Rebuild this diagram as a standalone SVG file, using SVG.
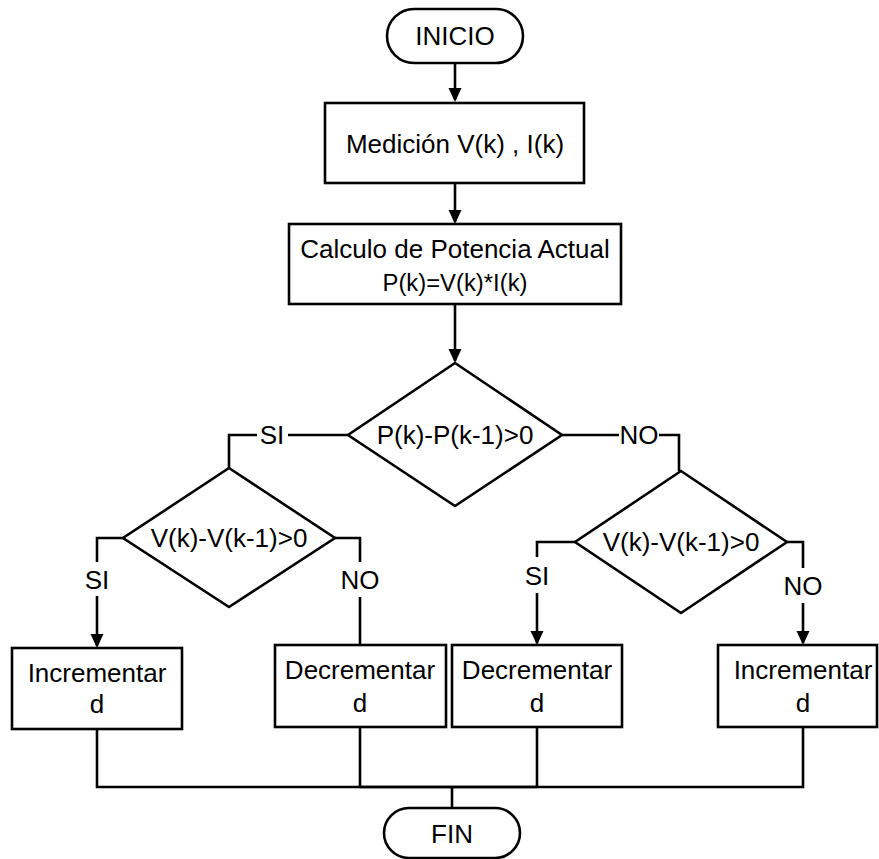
<svg xmlns="http://www.w3.org/2000/svg" width="879" height="859" viewBox="0 0 879 859">
  <style>
    .shape { fill: #ffffff; stroke: #000000; stroke-width: 2.6; }
    .wire { fill: none; stroke: #000000; stroke-width: 2.6; }
    .txt { font-family: "Liberation Sans", Arial, sans-serif; font-size: 26px; fill: #000000; text-anchor: middle; }
    .formula { font-family: "Liberation Sans", Arial, sans-serif; font-size: 23px; fill: #000000; text-anchor: middle; }
  </style>
  <defs>
    <marker id="arrow" markerUnits="userSpaceOnUse" markerWidth="16" markerHeight="14" refX="12" refY="6.5" orient="auto">
      <path d="M0,0 L14,6.5 L0,13 Z" fill="#000000"/>
    </marker>
  </defs>

  <rect width="879" height="859" fill="#ffffff"/>

  <!-- connectors -->
  <g id="connectors">
    <path class="wire" d="M455,63 V100" marker-end="url(#arrow)"/>
    <path class="wire" d="M455,183 V222" marker-end="url(#arrow)"/>
    <path class="wire" d="M455,305 V361" marker-end="url(#arrow)"/>

    <!-- main decision, SI branch -->
    <path class="wire" d="M348,435 H288"/>
    <path class="wire" d="M257,435 H229 V468"/>
    <text class="txt" x="272" y="444">SI</text>

    <!-- main decision, NO branch -->
    <path class="wire" d="M562,435 H619"/>
    <path class="wire" d="M659,435 H679 V471"/>
    <text class="txt" x="639" y="444">NO</text>

    <!-- left decision -->
    <path class="wire" d="M123,538 H97 V562"/>
    <path class="wire" d="M97,596 V646" marker-end="url(#arrow)"/>
    <text class="txt" x="97" y="589">SI</text>
    <path class="wire" d="M335,538 H360 V562"/>
    <path class="wire" d="M360,597 V645"/>
    <text class="txt" x="360" y="589">NO</text>

    <!-- right decision -->
    <path class="wire" d="M575,542 H537 V557"/>
    <path class="wire" d="M537,593 V643" marker-end="url(#arrow)"/>
    <text class="txt" x="537" y="585">SI</text>
    <path class="wire" d="M787,542 H803 V568"/>
    <path class="wire" d="M803,603 V643" marker-end="url(#arrow)"/>
    <text class="txt" x="803" y="595">NO</text>

    <!-- merge to end -->
    <path class="wire" d="M97,729 V787 H803 V727"/>
    <path class="wire" d="M360,787 H537" stroke-width="3.4"/>
    <path class="wire" d="M360,727 V787"/>
    <path class="wire" d="M537,727 V787"/>
    <path class="wire" d="M452,787 V808"/>
  </g>

  <g id="inicio">
    <rect class="shape" x="387" y="9" width="136" height="54" rx="27" ry="27"/>
    <text class="txt" x="455" y="45">INICIO</text>
  </g>

  <g id="medicion">
    <rect class="shape" x="325" y="103" width="259" height="80"/>
    <text class="txt" x="455" y="153">Medición V(k) , I(k)</text>
  </g>

  <g id="calculo">
    <rect class="shape" x="289" y="224" width="332" height="80"/>
    <text class="txt" x="455" y="258">Calculo de Potencia Actual</text>
    <text class="formula" x="455" y="291" textLength="145" lengthAdjust="spacingAndGlyphs">P(k)=V(k)*I(k)</text>
  </g>

  <g id="decision-potencia">
    <polygon class="shape" points="455,363 562,435 455,506 348,435"/>
    <text class="txt" x="455" y="444">P(k)-P(k-1)&gt;0</text>
  </g>

  <g id="decision-voltaje-izq">
    <polygon class="shape" points="229,468 335,538 229,607 123,538"/>
    <text class="txt" x="229" y="547">V(k)-V(k-1)&gt;0</text>
  </g>

  <g id="decision-voltaje-der">
    <polygon class="shape" points="681,471 787,542 681,613 575,542"/>
    <text class="txt" x="681" y="551">V(k)-V(k-1)&gt;0</text>
  </g>

  <g id="incrementar-izq">
    <rect class="shape" x="12" y="648" width="170" height="81"/>
    <text class="txt" x="97" y="682">Incrementar</text>
    <text class="txt" x="97" y="713">d</text>
  </g>

  <g id="decrementar-izq">
    <rect class="shape" x="275" y="645" width="171" height="82"/>
    <text class="txt" x="360" y="679">Decrementar</text>
    <text class="txt" x="360" y="712">d</text>
  </g>

  <g id="decrementar-der">
    <rect class="shape" x="452" y="645" width="170" height="82"/>
    <text class="txt" x="537" y="679">Decrementar</text>
    <text class="txt" x="537" y="712">d</text>
  </g>

  <g id="incrementar-der">
    <rect class="shape" x="718" y="645" width="159" height="82"/>
    <text class="txt" x="803" y="679">Incrementar</text>
    <text class="txt" x="803" y="712">d</text>
  </g>

  <g id="fin">
    <rect class="shape" x="384" y="808" width="136" height="50" rx="25" ry="25"/>
    <text class="txt" x="452" y="843">FIN</text>
  </g>
</svg>
